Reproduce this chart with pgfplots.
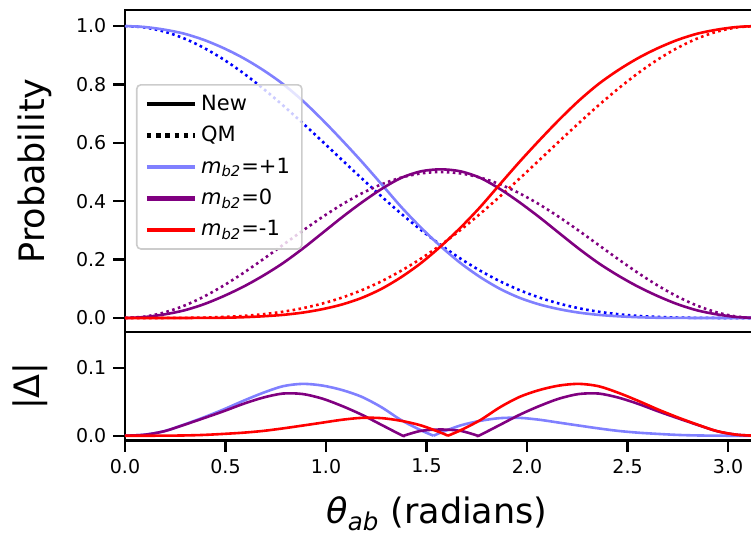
\documentclass[border=0pt]{standalone}
\usepackage{pgfplots}
\pgfplotsset{compat=1.18}
\usepackage{pgfplotstable}
\usepackage{fontspec}
\setmainfont{DejaVu Sans}

\definecolor{lblue}{RGB}{128,128,255}
\definecolor{mpurple}{RGB}{128,0,128}

% probabilities: QM (q*) and new model (n*) for m_b2 = +1, 0, -1
\pgfplotstableread{
t      qp     q0     qm     np     n0     nm
0.0000 1.0000 0.0000 0.0000 1.0000 0.0000 0.0000
0.0982 0.9952 0.0048 0.0000 0.9967 0.0033 0.0000
0.1963 0.9809 0.0190 0.0001 0.9877 0.0123 0.0000
0.2945 0.9574 0.0421 0.0005 0.9739 0.0260 0.0001
0.3927 0.9253 0.0732 0.0014 0.9525 0.0472 0.0002
0.4909 0.8854 0.1111 0.0035 0.9243 0.0749 0.0008
0.5890 0.8386 0.1543 0.0071 0.8902 0.1072 0.0026
0.6872 0.7859 0.2012 0.0129 0.8493 0.1449 0.0058
0.7854 0.7286 0.2500 0.0214 0.8017 0.1877 0.0106
0.8836 0.6678 0.2988 0.0334 0.7444 0.2372 0.0184
0.9817 0.6049 0.3457 0.0494 0.6791 0.2909 0.0301
1.0799 0.5413 0.3889 0.0699 0.6088 0.3450 0.0463
1.1781 0.4780 0.4268 0.0953 0.5354 0.3958 0.0689
1.2763 0.4162 0.4579 0.1259 0.4582 0.4419 0.0999
1.3744 0.3571 0.4810 0.1620 0.3801 0.4800 0.1400
1.4726 0.3014 0.4952 0.2034 0.3094 0.5024 0.1882
1.5708 0.2500 0.5000 0.2500 0.2454 0.5092 0.2454
1.6690 0.2034 0.4952 0.3014 0.1882 0.5024 0.3094
1.7671 0.1620 0.4810 0.3571 0.1400 0.4800 0.3801
1.8653 0.1259 0.4579 0.4162 0.0999 0.4419 0.4582
1.9635 0.0953 0.4268 0.4780 0.0689 0.3958 0.5354
2.0617 0.0699 0.3889 0.5413 0.0463 0.3450 0.6088
2.1598 0.0494 0.3457 0.6049 0.0301 0.2909 0.6791
2.2580 0.0334 0.2988 0.6678 0.0184 0.2372 0.7444
2.3562 0.0214 0.2500 0.7286 0.0106 0.1877 0.8017
2.4544 0.0129 0.2012 0.7859 0.0058 0.1449 0.8493
2.5525 0.0071 0.1543 0.8386 0.0026 0.1072 0.8902
2.6507 0.0035 0.1111 0.8854 0.0008 0.0749 0.9243
2.7489 0.0014 0.0732 0.9253 0.0002 0.0472 0.9525
2.8471 0.0005 0.0421 0.9574 0.0001 0.0260 0.9739
2.9452 0.0001 0.0190 0.9809 0.0000 0.0123 0.9877
3.0434 0.0000 0.0048 0.9952 0.0000 0.0033 0.9967
3.1416 0.0000 0.0000 1.0000 0.0000 0.0000 1.0000
}\probs

\pgfplotsset{
  panel/.style={
    scale only axis, width=315.75pt,
    xmin=0, xmax=3.1416,
    axis line style={line width=1.3pt},
    tick style={line width=1.1pt, black},
    major tick length=5.8pt,
    tick align=outside,
    xtick pos=bottom, ytick pos=left,
    /pgf/number format/assume math mode=true,
    tick label style={font=\fontsize{9.5}{11}\selectfont,
      /pgf/number format/fixed, /pgf/number format/fixed zerofill,
      /pgf/number format/precision=1},
    label style={font=\fontsize{17.5}{20}\selectfont},
  },
  newl/.style={line width=1.3pt, smooth},
  qml/.style={line width=1.3pt, smooth, dash pattern=on 1.3pt off 1.7pt},
}

\begin{document}
\begin{tikzpicture}
\begin{axis}[
  panel, name=top, height=161pt,
  ymin=-0.048, ymax=1.055,
  xtick=\empty,
  ytick={0,0.2,0.4,0.6,0.8,1.0},
  ylabel={Probability},
  ylabel style={at={(axis description cs:-0.1425,0.5)}, anchor=center},
  legend style={at={(0.0174,0.770)}, anchor=north west,
    draw=black!20, line width=0.8pt, rounded corners=2pt,
    fill=white, fill opacity=0.8, text opacity=1,
    font=\fontsize{10.5}{12}\selectfont,
    inner xsep=4pt, inner ysep=3pt, row sep=2.5pt},
  legend cell align=left,
  legend image code/.code={\draw[#1] (0pt,0pt) -- (24pt,0pt);},
]
\addlegendimage{black, line width=2.2pt}
\addlegendentry{New}
\addlegendimage{black, line width=2.2pt, dash pattern=on 2.2pt off 2.4pt}
\addlegendentry{QM}
\addlegendimage{lblue, line width=2.2pt}
\addlegendentry{\textit{m}\textsubscript{\textit{b2}}=+1}
\addlegendimage{mpurple, line width=2.2pt}
\addlegendentry{\textit{m}\textsubscript{\textit{b2}}=0}
\addlegendimage{red, line width=2.2pt}
\addlegendentry{\textit{m}\textsubscript{\textit{b2}}=-1}

\addplot[qml, blue, forget plot] table[x=t, y=qp] {\probs};
\addplot[qml, mpurple, forget plot] table[x=t, y=q0] {\probs};
\addplot[qml, red, forget plot] table[x=t, y=qm] {\probs};
\addplot[newl, lblue, forget plot] table[x=t, y=np] {\probs};
\addplot[newl, mpurple, forget plot] table[x=t, y=n0] {\probs};
\addplot[newl, red, forget plot] table[x=t, y=nm] {\probs};
\end{axis}

\begin{axis}[
  panel, name=bot, height=54.2pt,
  at={(top.south west)}, anchor=north west,
  ymin=-0.0069, ymax=0.1532,
  xtick={0,0.5,1.0,1.5,2.0,2.5,3.0},
  ytick={0,0.1},
  ylabel={|Δ|},
  ylabel style={at={(axis description cs:-0.15,0.5)}, anchor=center},
  xlabel={\textit{θ}\textsubscript{\textit{ab}} (radians)},
  xlabel style={at={(axis description cs:0.494,-0.675)}, anchor=center},
]
% |Delta| for m_b2=+1, split at its zero
\addplot[newl, lblue] coordinates {
  (0,0) (0.0982,0.0015) (0.1963,0.0068) (0.2945,0.0165) (0.3927,0.0272)
  (0.4909,0.0389) (0.5890,0.0516) (0.6872,0.0634) (0.7854,0.0731)
  (0.8836,0.0766) (0.9817,0.0741) (1.0799,0.0675) (1.1781,0.0574)
  (1.2763,0.0420) (1.3744,0.0230) (1.4726,0.0080) (1.5350,0)
};
\addplot[newl, lblue] coordinates {
  (1.5350,0) (1.5708,0.0046) (1.6690,0.0152) (1.7671,0.0220) (1.8653,0.0260)
  (1.9635,0.0264) (2.0617,0.0236) (2.1598,0.0193) (2.2580,0.0150)
  (2.3562,0.0108) (2.4544,0.0071) (2.5525,0.0045) (2.6507,0.0027)
  (2.7489,0.0012) (2.8471,0.0004) (2.9452,0.0001) (3.0434,0) (3.1416,0)
};
% |Delta| for m_b2=0
\addplot[newl, mpurple] coordinates {
  (0,0) (0.0982,0.0015) (0.1963,0.0067) (0.2945,0.0161) (0.3927,0.0260)
  (0.4909,0.0362) (0.5890,0.0471) (0.6872,0.0563) (0.7854,0.0623)
  (0.8836,0.0616) (0.9817,0.0548) (1.0799,0.0439) (1.1781,0.0310)
  (1.2763,0.0160) (1.3744,0.0010) (1.3864,0)
};
\addplot[newl, mpurple] coordinates {
  (1.3864,0) (1.4726,0.0072) (1.5708,0.0092) (1.6690,0.0072) (1.7552,0)
};
\addplot[newl, mpurple] coordinates {
  (1.7552,0) (1.7671,0.0010)
  (1.8653,0.0160) (1.9635,0.0310) (2.0617,0.0439) (2.1598,0.0548)
  (2.2580,0.0616) (2.3562,0.0623) (2.4544,0.0563) (2.5525,0.0471)
  (2.6507,0.0362) (2.7489,0.0260) (2.8471,0.0161) (2.9452,0.0067)
  (3.0434,0.0015) (3.1416,0)
};
% |Delta| for m_b2=-1
\addplot[newl, red] coordinates {
  (0,0) (0.0982,0) (0.1963,0.0001) (0.2945,0.0004) (0.3927,0.0012)
  (0.4909,0.0027) (0.5890,0.0045) (0.6872,0.0071) (0.7854,0.0108)
  (0.8836,0.0150) (0.9817,0.0193) (1.0799,0.0236) (1.1781,0.0264)
  (1.2763,0.0260) (1.3744,0.0220) (1.4726,0.0152) (1.5708,0.0046)
  (1.6066,0)
};
\addplot[newl, red] coordinates {
  (1.6066,0) (1.6690,0.0080) (1.7671,0.0230) (1.8653,0.0420)
  (1.9635,0.0574) (2.0617,0.0675) (2.1598,0.0741) (2.2580,0.0766)
  (2.3562,0.0731) (2.4544,0.0634) (2.5525,0.0516) (2.6507,0.0389)
  (2.7489,0.0272) (2.8471,0.0165) (2.9452,0.0068) (3.0434,0.0015) (3.1416,0)
};
\end{axis}

\pgfresetboundingbox
\useasboundingbox ([xshift=-62.5pt,yshift=5pt]top.north west)
  rectangle ([xshift=313pt,yshift=-47.15pt]bot.south west);
\end{tikzpicture}
\end{document}
